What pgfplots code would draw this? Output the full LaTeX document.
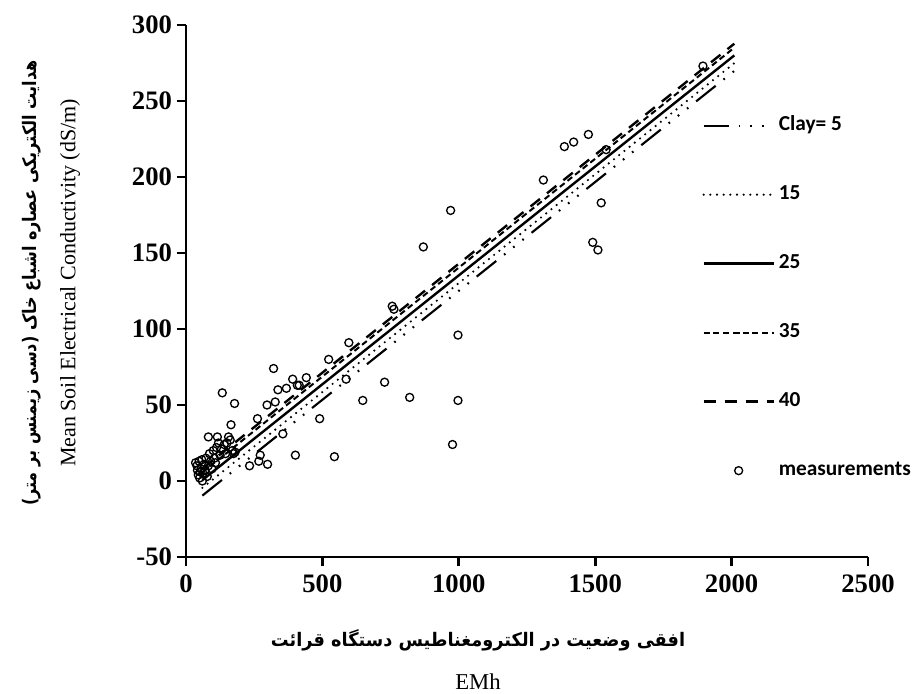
\documentclass[border=0pt]{standalone}
\usepackage{fontspec}
\setmainfont{Liberation Serif}
\newfontfamily\legfont{Carlito}
\newfontfamily\farsi[Script=Arabic, FakeStretch=0.86]{DejaVu Sans}
\newfontfamily\farsix[Script=Arabic, FakeStretch=0.95]{DejaVu Sans}
\usepackage{pgfplots}
\pgfplotsset{compat=1.18}
\TeXXeTstate=1

\begin{document}
\begin{tikzpicture}
% frame of the whole picture: 913x693 reference pixels (1px = 0.75pt), origin at the axis corner
\path[use as bounding box] (-139.5pt,-102pt) rectangle (545.25pt,417.75pt);
\begin{axis}[
    at={(0,0)}, anchor=south west,
    scale only axis,
    width=511.5pt, height=399pt,
    xmin=0, xmax=2500,
    ymin=-50, ymax=300,
    axis x line*=bottom, axis y line*=left,
    axis line style={-, line width=2.2pt},
    xtick={0,500,...,2500},
    ytick={-50,0,...,300},
    tick align=outside,
    major tick length=7pt,
    tick style={line width=2.2pt, black},
    ticklabel style={font=\fontsize{20}{22}\selectfont\bfseries},
    xticklabel style={yshift=-3pt},
    /pgf/number format/assume math mode=true,
    /pgf/number format/1000 sep={},
    clip=false,
    legend style={at={(0.751,0.837)}, anchor=north west, draw=none, fill=none,
        font=\fontsize{16}{18}\selectfont\legfont\bfseries,
        row sep=35.25pt, column sep=3pt,
        nodes={inner sep=0pt, text height=12pt, text depth=4.5pt}},
    legend cell align=left,
    legend image code/.code={\draw[mark repeat=2,mark phase=2,#1]
        plot coordinates {(0pt,0pt) (26.25pt,0pt) (52.5pt,0pt)};},
]
\addplot[black, no markers, line width=1.6pt,
    dash pattern=on 18.75pt off 7.5pt on 1.3pt off 7.5pt on 1.3pt off 7.5pt on 1.3pt off 7.5pt]
    coordinates {(60,-9.6) (2010,269.8)};
\addlegendentry{Clay= 5}
\addplot[black, no markers, line width=1.8pt, line cap=round, dash pattern=on 0pt off 5pt]
    coordinates {(60,-4.5) (2010,274.9)};
\addlegendentry{15}
\addplot[black, no markers, line width=1.8pt]
    coordinates {(60,0.6) (2010,280.0)};
\addlegendentry{25}
\addplot[black, no markers, line width=1.5pt, dash pattern=on 4.5pt off 2.8pt]
    coordinates {(60,5.7) (2010,285.1)};
\addlegendentry{35}
\addplot[black, no markers, line width=1.8pt, dash pattern=on 9pt off 6.75pt]
    coordinates {(60,8.2) (2010,287.7)};
\addlegendentry{40}
\addplot[only marks, mark=o, mark size=3pt, mark options={line width=1pt, black}]
    coordinates {
    (1895,273) (1387,220) (1421,223) (1475,228) (1310,198) (1522,183)
    (1491,157) (1510,152) (1540,218) (970,178) (870,154) (756,115)
    (762,113) (997,96) (997,53) (977,24) (820,55) (728,65) (648,53)
    (544,16) (490,41) (597,91) (587,67) (523,80) (441,68) (415,63)
    (408,63) (391,67) (368,61) (337,60) (321,74) (327,52) (297,50)
    (355,31) (401,17) (262,41) (299,11) (272,17) (267,13) (233,10)
    (178,51) (133,58) (165,37) (174,18) (162,27) (156,29) (115,29)
    (82,29) (119,25)
    (40,10) (45,4) (48,13) (50,2) (55,8) (58,14) (62,5) (66,11) (70,7)
    (73,15) (78,3) (82,10) (86,18) (90,13) (95,8) (100,20) (104,15)
    (108,12) (112,22) (125,17) (130,21) (140,24) (145,18) (150,25)
    (170,20) (180,19) (60,0) (52,6) (35,12) (42,7)
    };
\addlegendentry{measurements}
\end{axis}
\begin{scope}[x=0.75pt,y=0.75pt]
\node[rotate=90, font=\fontsize{14}{16}\selectfont\farsi\bfseries] at (-154,274)
    {\beginR هدایت الکتریکی عصاره اشباع خاک (دسی زیمنس بر متر)\endR};
\node[rotate=90, font=\fontsize{16.5}{18}\selectfont] at (-116,274)
    {Mean Soil Electrical Conductivity (dS/m)};
% the reference sets the words of this label left to right
\node[font=\fontsize{14}{16}\selectfont\farsix\bfseries] at (292,-83)
    {\hbox{قرائت}\ \hbox{دستگاه}\ \hbox{الکترومغناطیس}\ \hbox{در}\ \hbox{وضعیت}\ \hbox{افقی}};
\node[font=\fontsize{17}{19}\selectfont] at (292,-125) {EMh};
\end{scope}
\end{tikzpicture}
\end{document}
